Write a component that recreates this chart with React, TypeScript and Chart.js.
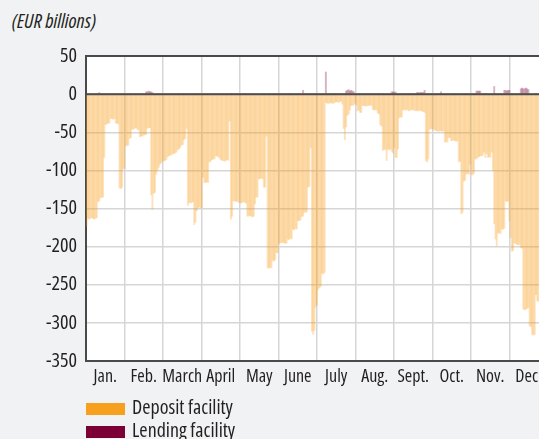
import React, { useEffect, useRef } from 'react';
import { Chart, registerables } from 'chart.js';

Chart.register(...registerables);

const FONT = '"Open Sans", "Liberation Sans", sans-serif';
const TEXT = '#231f20';

const MONTHS = ['Jan.', 'Feb.', 'March', 'April', 'May', 'June', 'July', 'Aug.', 'Sept.', 'Oct.', 'Nov.', 'Dec.'];
const Y_MIN = -350;
const Y_MAX = 50;
const Y_STEP = 50;

// Deposit facility recourse (EUR billions, shown as negative), daily
const DEPOSIT_JAN = [-173, -163, -164, -163, -162, -163, -164, -163, -162, -141, -140, -136, -135, -135, -83, -40, -39, -38, -38, -32, -32, -33, -32, -38, -38, -39, -123, -124, -122, -98, -97];
const DEPOSIT_FEB = [-68, -67, -67, -58, -57, -46, -46, -45, -44, -46, -47, -56, -55, -55, -54, -53, -53, -45, -44, -44, -132, -151, -130, -129, -105, -100, -96, -92];
const DEPOSIT_MAR = [-90, -88, -87, -87, -86, -82, -81, -80, -80, -78, -78, -77, -76, -73, -72, -70, -67, -66, -60, -58, -45, -146, -142, -143, -142, -141, -171, -168, -153, -149, -148];
const DEPOSIT_APR = [-149, -149, -109, -116, -116, -115, -116, -89, -88, -86, -85, -85, -81, -81, -82, -84, -86, -87, -87, -88, -87, -86, -87, -35, -164, -160, -140, -140, -141, -140];
const DEPOSIT_MAY = [-142, -142, -143, -142, -141, -142, -143, -160, -160, -159, -160, -161, -160, -144, -135, -135, -111, -111, -110, -111, -122, -122, -55, -228, -228, -227, -228, -218, -219, -217, -208];
const DEPOSIT_JUN = [-208, -196, -195, -195, -194, -195, -196, -195, -190, -191, -189, -190, -177, -178, -176, -177, -166, -166, -165, -160, -160, -155, -155, -154, -122, -121, -70, -311, -315, -310];
const DEPOSIT_JUL = [-279, -276, -256, -254, -252, -235, -236, -234, -11, -12, -12, -12, -11, -12, -12, -11, -10, -10, -11, -10, -9, -13, -45, -60, -43, -28, -26, -21, -15, -15, -14];
const DEPOSIT_AUG = [-12, -14, -22, -21, -24, -24, -15, -15, -15, -16, -15, -15, -14, -15, -20, -21, -20, -21, -25, -26, -40, -42, -74, -72, -73, -87, -72, -73, -72, -75, -77];
const DEPOSIT_SEP = [-70, -83, -83, -72, -31, -30, -30, -21, -20, -21, -20, -21, -22, -21, -20, -21, -21, -22, -21, -22, -21, -22, -22, -23, -24, -87, -89, -85, -46, -45];
const DEPOSIT_OCT = [-46, -46, -47, -48, -48, -49, -48, -48, -49, -48, -63, -62, -63, -57, -57, -61, -61, -60, -61, -62, -61, -89, -88, -157, -155, -114, -113, -105, -104, -105, -92];
const DEPOSIT_NOV = [-105, -106, -104, -85, -85, -83, -82, -81, -81, -80, -76, -83, -78, -83, -82, -83, -76, -100, -170, -190, -199, -182, -182, -183, -177, -177, -176, -140, -141, -140];
const DEPOSIT_DEC = [-166, -188, -206, -205, -195, -196, -197, -198, -197, -201, -202, -282, -283, -282, -281, -280, -304, -305, -315, -316, -315, -263, -271, -272, -254, -255, -252, -250, -250, -248, -248];

// Lending facility recourse (EUR billions), sparse: day index and value
const LENDING_DAYS = [10, 47, 48, 49, 50, 51, 52, 72, 85, 114, 125, 140, 160, 171, 189, 195, 205, 206, 207, 208, 209, 210, 211, 230, 241, 242, 243, 244, 255, 261, 262, 263, 264, 265, 266, 267, 280, 290, 300, 308, 309, 310, 311, 315, 322, 330, 331, 332, 333, 334, 343, 344, 345, 346, 347, 348, 349, 355];
const LENDING_VALUES = [2, 3, 3, 4, 3, 3, 2, 1, 1, 1, 1, 1, 1, 5, 29, 1, 4, 5, 6, 4, 5, 4, 3, 1, 3, 3, 2, 3, 1, 2, 2, 2, 2, 2, 2, 5, 3, 1, 1, 4, 4, 4, 4, 1, 10, 5, 5, 4, 5, 5, 7, 8, 7, 7, 8, 7, 6, 1];

const DEPOSIT = [
  ...DEPOSIT_JAN, ...DEPOSIT_FEB, ...DEPOSIT_MAR, ...DEPOSIT_APR, ...DEPOSIT_MAY, ...DEPOSIT_JUN,
  ...DEPOSIT_JUL, ...DEPOSIT_AUG, ...DEPOSIT_SEP, ...DEPOSIT_OCT, ...DEPOSIT_NOV, ...DEPOSIT_DEC,
];
const DAYS = DEPOSIT.map((_, i) => String(i + 1));
const LENDING = DAYS.map(() => 0);
LENDING_DAYS.forEach((d, i) => {
  LENDING[d] = LENDING_VALUES[i];
});

const plotBg = {
  id: 'plotBg',
  beforeDraw(chart: any) {
    const { ctx, chartArea } = chart;
    ctx.save();
    ctx.fillStyle = '#ffffff';
    ctx.fillRect(chartArea.left, chartArea.top, chartArea.right - chartArea.left, chartArea.bottom - chartArea.top);
    ctx.restore();
  },
};

const zeroLine = {
  id: 'zeroLine',
  afterDatasetsDraw(chart: any) {
    const { ctx, chartArea, scales } = chart;
    const y = scales.y.getPixelForValue(0);
    ctx.save();
    ctx.strokeStyle = '#4d4d4d';
    ctx.lineWidth = 2;
    ctx.beginPath();
    ctx.moveTo(chartArea.left, y);
    ctx.lineTo(chartArea.right, y);
    ctx.stroke();
    ctx.restore();
  },
};

export default function App() {
  const ref = useRef<HTMLCanvasElement>(null);

  useEffect(() => {
    if (!ref.current) return;
    const chart = new Chart(ref.current, {
      type: 'bar',
      data: {
        labels: DAYS,
        datasets: [
          {
            label: 'Deposit facility',
            data: DEPOSIT,
            xAxisID: 'xd',
            yAxisID: 'y',
            backgroundColor: 'rgba(247,160,30,0.3)',
            borderWidth: 0,
            barPercentage: 1,
            categoryPercentage: 1,
            grouped: false,
          } as any,
          {
            label: 'Lending facility',
            data: LENDING,
            xAxisID: 'xd',
            yAxisID: 'y',
            backgroundColor: 'rgba(122,0,54,0.3)',
            borderWidth: 0,
            barPercentage: 1,
            categoryPercentage: 1,
            grouped: false,
          } as any,
        ],
      },
      options: {
        responsive: false,
        animation: false,
        devicePixelRatio: 1,
        layout: { padding: { top: 56, right: 22, left: 0, bottom: 0 } },
        plugins: { legend: { display: false }, tooltip: { enabled: false } },
        scales: {
          x: {
            type: 'category',
            labels: MONTHS,
            position: 'bottom',
            offset: true,
            grid: { offset: true, color: '#d6d6d6', lineWidth: 1.5, drawTicks: false },
            border: { color: '#4a4a4a', width: 2 },
            ticks: {
              font: { size: 18, family: FONT, weight: 'normal condensed' },
              color: TEXT,
              padding: 5,
              autoSkip: false,
              maxRotation: 0,
            },
            afterFit: (s: any) => {
              s.height = 34;
            },
          },
          xd: {
            type: 'category',
            display: false,
            offset: true,
            grid: { display: false },
          },
          y: {
            min: Y_MIN,
            max: Y_MAX,
            ticks: {
              stepSize: Y_STEP,
              font: { size: 20, family: FONT, weight: 'normal condensed' },
              color: TEXT,
              padding: 9,
            },
            grid: {
              drawTicks: false,
              color: (c: any) => (c.tick && c.tick.value === Y_MAX ? '#4a4a4a' : '#d6d6d6'),
              lineWidth: (c: any) => (c.tick && c.tick.value === Y_MAX ? 2 : 1.5),
            },
            border: { color: '#4a4a4a', width: 2 },
            afterFit: (s: any) => {
              s.width = 86;
            },
          },
        } as any,
      },
      plugins: [plotBg, zeroLine],
    });
    return () => chart.destroy();
  }, []);

  const textStyle: any = { position: 'absolute', whiteSpace: 'nowrap', lineHeight: '20px', fontStretch: 'condensed' };

  return (
    <div
      style={{
        position: 'fixed',
        left: 0,
        top: 0,
        width: 539,
        height: 439,
        overflow: 'hidden',
        background: '#f1f2f4',
        fontFamily: FONT,
        color: TEXT,
      }}
    >
      <div style={{ ...textStyle, left: 12, top: 11, fontSize: 20, fontStyle: 'italic' }}>(EUR billions)</div>
      <canvas ref={ref} width={570} height={395} style={{ position: 'absolute', left: 0, top: 0, width: 570, height: 395 }} />
      <div style={{ position: 'absolute', left: 86, top: 403, width: 39, height: 12, background: '#f7a01e' }} />
      <div style={{ ...textStyle, left: 132, top: 397, fontSize: 20 }}>Deposit facility</div>
      <div style={{ position: 'absolute', left: 86, top: 426, width: 39, height: 12, background: '#7a0036' }} />
      <div style={{ ...textStyle, left: 132, top: 420, fontSize: 20 }}>Lending facility</div>
    </div>
  );
}
